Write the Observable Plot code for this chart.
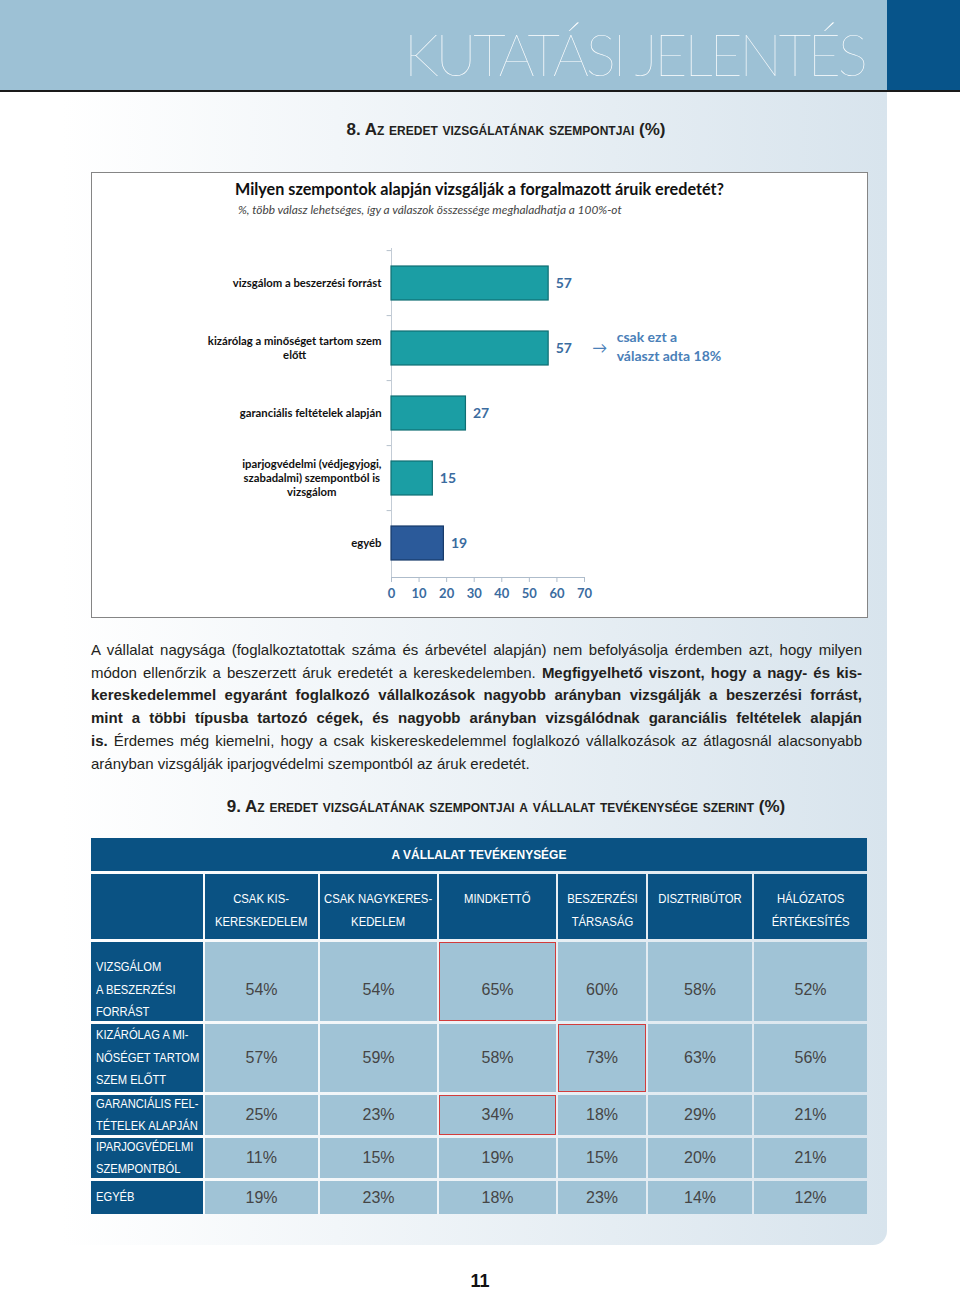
<!DOCTYPE html>
<html><head><meta charset="utf-8">
<script src="https://cdn.jsdelivr.net/npm/d3@7"></script>
<script src="https://cdn.jsdelivr.net/npm/@observablehq/plot@0.6"></script>
<style>
body{margin:0;background:#fff;}
#page{position:relative;width:960px;height:1291px;overflow:hidden;font-family:"Liberation Sans",Arial,sans-serif;color:#231f20;}
.abs{position:absolute;}
#band{left:0;top:0;width:887px;height:90px;background:#9dc1d5;}
#block{left:887px;top:0;width:73px;height:90px;background:#07548a;}
#rule{left:0;top:90px;width:960px;height:2px;background:#1a1a1a;}
#panel{left:0;top:92px;width:887px;height:1153px;background:linear-gradient(to right,#ffffff 0%,#ffffff 7%,#d8e4ed 100%);border-bottom-right-radius:14px;}
#kt{left:404px;top:20px;font-family:Lato;font-weight:100;font-size:57px;color:#fff;letter-spacing:-3.3px;white-space:nowrap;}
.sec{left:91px;width:830px;text-align:center;font-weight:bold;font-size:17px;color:#231f20;}
.sec .sc{font-variant:small-caps;}
#box{left:91px;top:172px;width:777px;height:446px;background:#fff;border:1px solid #858585;box-sizing:border-box;}
#ctitle{left:235px;top:179px;font-family:Lato;font-weight:bold;font-size:16.2px;color:#111;white-space:nowrap;}
#csub{left:238px;top:202px;font-family:Lato;font-style:italic;font-size:11.9px;color:#444;white-space:nowrap;}
#chart{left:92px;top:225px;}
#para{left:91px;top:639px;width:771px;font-size:15px;line-height:22.7px;color:#231f20;}
#para .ln{text-align:justify;text-align-last:justify;white-space:nowrap;}
#para .ln.last{text-align-last:left;}
#tbl{left:91px;top:838px;display:grid;grid-template-columns:112px 113px 117px 117px 88px 104px 113px;grid-template-rows:33px 65px 79px 68px 40px 40px 33px;column-gap:2px;row-gap:3px;}
.c{box-sizing:border-box;font-family:"Liberation Sans",sans-serif;overflow:visible;}
.c span{display:inline-block;white-space:pre;}
.h1{grid-column:1 / -1;background:#0a5283;color:#fff;font-weight:bold;font-size:13px;display:flex;align-items:center;justify-content:center;}
.h1 span{transform:scaleX(0.92);}
.h2{background:#0a5283;color:#fff;font-size:13px;line-height:23px;padding-top:13px;display:flex;justify-content:center;align-items:flex-start;}
.h2 span{text-align:center;transform:scaleX(0.87);transform-origin:center top;}
.rl{background:#0a5283;color:#fff;font-size:13px;line-height:22.5px;padding-left:5px;display:flex;align-items:center;}
.rl span{transform:scaleX(0.86);transform-origin:left center;}
.v{background:#a0c3d6;color:#454545;font-size:16px;display:flex;align-items:center;justify-content:center;}
.hl{box-shadow:inset 0 0 0 1px #d23c3c;}
#pnum{left:430px;top:1271px;width:100px;text-align:center;font-weight:bold;font-size:18px;color:#111;}
</style></head>
<body><div id="page">
<div id="band" class="abs"></div>
<div id="block" class="abs"></div>
<div id="rule" class="abs"></div>
<div id="panel" class="abs"></div>
<div id="kt" class="abs">KUTATÁSI JELENTÉS</div>
<div id="sec8" class="abs sec" style="top:120px">8. A<span class="sc">z eredet vizsgálatának szempontjai</span> (%)</div>
<div id="box" class="abs"></div>
<div id="ctitle" class="abs"></div>
<div id="csub" class="abs"></div>
<div id="chart" class="abs"></div>
<div id="para" class="abs"></div>
<div id="sec9" class="abs sec" style="top:797px">9. A<span class="sc">z eredet vizsgálatának szempontjai a vállalat tevékenysége szerint</span> (%)</div>
<div id="tbl" class="abs"></div>
<div id="pnum" class="abs">11</div>
</div>
<script>
// ---------- Chart data ----------
const chartTitle = "Milyen szempontok alapján vizsgálják a forgalmazott áruik eredetét?";
const chartSubtitle = "%, több válasz lehetséges, így a válaszok összessége meghaladhatja a 100%-ot";
const categories = [
  "vizsgálom a beszerzési forrást",
  "kizárólag a minőséget tartom szem\nelőtt",
  "garanciális feltételek alapján",
  "iparjogvédelmi (védjegyjogi,\nszabadalmi) szempontból is\nvizsgálom",
  "egyéb"
];
const values = [57, 57, 27, 15, 19];
const xTicks = [0, 10, 20, 30, 40, 50, 60, 70];
const noteIndex = 1;
const noteText = "csak ezt a\nválaszt adta 18%";

// ---------- Table data ----------
const tableHeader = "A VÁLLALAT TEVÉKENYSÉGE";
const colLabels = ["CSAK KIS-\nKERESKEDELEM", "CSAK NAGYKERES-\nKEDELEM", "MINDKETTŐ", "BESZERZÉSI\nTÁRSASÁG", "DISZTRIBÚTOR", "HÁLÓZATOS\nÉRTÉKESÍTÉS"];
const rowLabels = ["VIZSGÁLOM\nA BESZERZÉSI\nFORRÁST", "KIZÁRÓLAG A MI-\nNŐSÉGET TARTOM\nSZEM ELŐTT", "GARANCIÁLIS FEL-\nTÉTELEK ALAPJÁN", "IPARJOGVÉDELMI\nSZEMPONTBÓL", "EGYÉB"];
const tableValues = [
  [54, 54, 65, 60, 58, 52],
  [57, 59, 58, 73, 63, 56],
  [25, 23, 34, 18, 29, 21],
  [11, 15, 19, 15, 20, 21],
  [19, 23, 18, 23, 14, 12]
];
const highlighted = [[0, 2], [1, 3], [2, 2]];

// ---------- Paragraph ----------
const paraLines = [
  ["A vállalat nagysága (foglalkoztatottak száma és árbevétel alapján) nem befolyásolja érdemben azt, hogy milyen", ""],
  ["módon ellenőrzik a beszerzett áruk eredetét a kereskedelemben. ", "Megfigyelhető viszont, hogy a nagy- és kis-"],
  ["", "kereskedelemmel egyaránt foglalkozó vállalkozások nagyobb arányban vizsgálják a beszerzési forrást,"],
  ["", "mint a többi típusba tartozó cégek, és nagyobb arányban vizsgálódnak garanciális feltételek alapján"],
  ["", "is.", " Érdemes még kiemelni, hogy a csak kiskereskedelemmel foglalkozó vállalkozások az átlagosnál alacsonyabb"],
  ["arányban vizsgálják iparjogvédelmi szempontból az áruk eredetét.", ""]
];

document.getElementById("ctitle").textContent = chartTitle;
document.getElementById("csub").textContent = chartSubtitle;

const para = document.getElementById("para");
paraLines.forEach((parts, i) => {
  const div = document.createElement("div");
  div.className = "ln" + (i === paraLines.length - 1 ? " last" : "");
  parts.forEach((p, j) => {
    if (!p) return;
    const s = document.createElement(j === 1 ? "b" : "span");
    s.textContent = p;
    div.appendChild(s);
  });
  para.appendChild(div);
});

// ---------- Bar chart ----------
const data = categories.map((c, i) => ({cat: c, value: values[i]}));
const teal = "#1b9ea4", tealEdge = "#0f6e73", navy = "#2b5a9a", navyEdge = "#173a6a";
const W = 776, H = 390, mL = 299, mR = 284, mT = 23, mB = 38;
const step = (H - mT - mB) / categories.length;
const labelFont = "bold 11.3px Lato";
const ctx = document.createElement("canvas").getContext("2d");
ctx.font = labelFont;
const labelMarks = categories.map(c => {
  const w = d3.max(c.split("\n"), l => ctx.measureText(l).width);
  return Plot.text([c], {y: d => d, text: d => d, frameAnchor: "left", textAnchor: "middle", dx: -(w / 2 + 10), dy: -1,
    fontSize: 11.3, fontWeight: "bold", fontFamily: "Lato", lineHeight: 1.25, fill: "#111"});
});

const chart = Plot.plot({
  width: W, height: H, marginLeft: mL, marginRight: mR, marginTop: mT, marginBottom: mB,
  style: {background: "transparent", fontFamily: "Lato", overflow: "visible"},
  x: {domain: [0, 70], axis: null, label: null},
  y: {domain: categories, axis: null, paddingInner: 0.48, paddingOuter: 0.24},
  marks: [
    Plot.frame({anchor: "bottom", stroke: "#aebccb"}),
    Plot.ruleX([0], {stroke: "#c3ccd6"}),
    Plot.ruleY(categories, {y: d => d, x1: -1.6, x2: 0, dy: -step / 2, stroke: "#b5c0cc"}),
    Plot.barX(data, {x: "value", y: "cat", fill: (d, i) => i === categories.length - 1 ? navy : teal,
      stroke: (d, i) => i === categories.length - 1 ? navyEdge : tealEdge, strokeWidth: 1.2}),
    Plot.text(data, {x: "value", y: "cat", text: d => String(d.value), dx: 7, textAnchor: "start",
      fill: "#3b6c9f", fontWeight: "bold", fontSize: 14, fontFamily: "Lato"}),
    Plot.text([data[noteIndex]], {x: "value", y: "cat", text: () => "→", dx: 51, fill: "#4a80b8", fontSize: 15}),
    Plot.text([data[noteIndex]], {x: "value", y: "cat", text: () => noteText, dx: 68, dy: -3, textAnchor: "start",
      fill: "#4a80b8", fontWeight: "bold", fontSize: 14, fontFamily: "Lato", lineHeight: 1.35}),
    ...labelMarks,
    Plot.axisX({ticks: xTicks, tickSize: 5, tickPadding: 6, stroke: "#aebccb", fill: "#3b6c9f", label: null,
      fontWeight: "bold", fontSize: 13, fontFamily: "Lato", tickFormat: d => String(d)})
  ]
});
document.getElementById("chart").appendChild(chart);

// ---------- Table ----------
const tbl = document.getElementById("tbl");
function cell(cls, text) {
  const d = document.createElement("div");
  d.className = "c " + cls;
  const s = document.createElement("span");
  s.textContent = text;
  d.appendChild(s);
  tbl.appendChild(d);
  return d;
}
cell("h1", tableHeader);
cell("h2", "");
colLabels.forEach(l => cell("h2", l));
tableValues.forEach((row, r) => {
  const lab = cell("rl", rowLabels[r]);
  if (r === 0) lab.style.paddingTop = "17px";
  row.forEach((v, c) => {
    const d = cell("v", v + "%");
    if (r === 0) d.style.paddingTop = "17px";
    if (highlighted.some(([hr, hc]) => hr === r && hc === c)) d.classList.add("hl");
  });
});
</script>
</body></html>
